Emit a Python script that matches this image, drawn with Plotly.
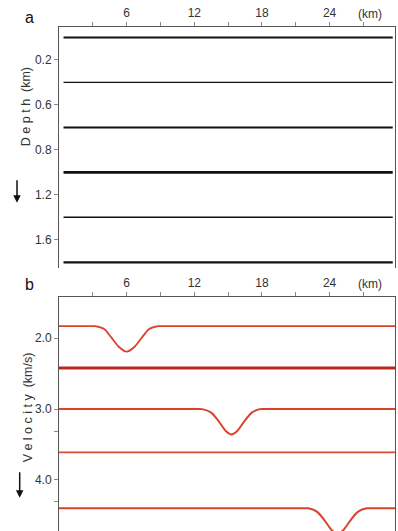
import plotly.graph_objects as go

# ---------------- data ----------------
dist_tickvals = [3, 6, 9, 12, 15, 18, 21, 24, 27]
dist_ticktext = ["", "6", "", "12", "", "18", "", "24", ""]

# panel a: layer interfaces (depth axis units)
layer_depths = [0.0, 0.4, 0.8, 1.2, 1.6, 2.0]
layer_x = [0.4, 29.6]
depth_tickvals = [0.2, 0.6, 1.0, 1.4, 1.8]
depth_ticktext = ["0.2", "0.6", "0.8", "1.2", "1.6"]

# panel b: velocity profiles (km, km/s)
v1_x = [0, 2.4, 3.2, 4.0, 4.6, 5.3, 6.0, 6.7, 7.4, 8.0, 8.8, 9.6, 29.8]
v1_v = [1.83, 1.83, 1.83, 1.87, 1.98, 2.12, 2.19, 2.12, 1.98, 1.87, 1.83, 1.83, 1.83]
v2_x = [0, 29.8]
v2_v = [2.42, 2.42]
v3_x = [0, 11.9, 12.7, 13.5, 14.2, 14.8, 15.3, 15.8, 16.4, 17.1, 17.8, 18.6, 29.8]
v3_v = [3.0, 3.0, 3.0, 3.05, 3.18, 3.31, 3.36, 3.31, 3.18, 3.05, 3.0, 3.0, 3.0]
v4_x = [0, 29.8]
v4_v = [3.61, 3.61]
v5_x = [0, 21.3, 22.1, 22.9, 23.6, 24.2, 24.7, 25.2, 25.8, 26.5, 27.3, 28.1, 29.8]
v5_v = [4.40, 4.40, 4.40, 4.45, 4.58, 4.71, 4.76, 4.71, 4.58, 4.45, 4.40, 4.40, 4.40]
vel_tickvals = [2.0, 3.0, 4.0]
vel_ticktext = ["2.0", "3.0", "4.0"]
vel_minor = [3.32, 4.31]

# ---------------- styles ----------------
layer_widths = [2.0, 1.2, 2.0, 2.8, 1.5, 2.2]
vel_styles = [
    (v1_x, v1_v, "#d9432c", 1.8),
    (v2_x, v2_v, "#b8281a", 3.0),
    (v3_x, v3_v, "#d9432c", 2.0),
    (v4_x, v4_v, "#db4a32", 1.8),
    (v5_x, v5_v, "#d9432c", 2.0),
]

fig = go.Figure()

for d, w in zip(layer_depths, layer_widths):
    fig.add_trace(go.Scatter(x=layer_x, y=[d, d], mode="lines",
                             line=dict(color="#111111", width=w),
                             xaxis="x", yaxis="y", showlegend=False, hoverinfo="skip"))

for xs, vs, c, w in vel_styles:
    fig.add_trace(go.Scatter(x=xs, y=vs, mode="lines",
                             line=dict(color=c, width=w, shape="spline", smoothing=0.8),
                             xaxis="x2", yaxis="y2", showlegend=False, hoverinfo="skip"))

font = "Liberation Sans, Arial, sans-serif"
tickfont = dict(family=font, size=12, color="#333333")

xcommon = dict(range=[0, 29.8], side="top", tickmode="array",
               tickvals=dist_tickvals, ticktext=dist_ticktext,
               ticks="outside", ticklen=4, tickcolor="#888888",
               showline=True, linecolor="#555555", linewidth=1,
               showgrid=False, zeroline=False, tickfont=tickfont)

fig.update_layout(
    width=398, height=531,
    margin=dict(l=59, r=3, t=27, b=0),
    paper_bgcolor="white", plot_bgcolor="white",
    xaxis=dict(anchor="y", **xcommon),
    xaxis2=dict(anchor="y2", **xcommon),
    yaxis=dict(domain=[0.522, 1.0], range=[2.05, -0.093], anchor="x",
               tickmode="array", tickvals=depth_tickvals, ticktext=depth_ticktext,
               ticks="outside", ticklen=4, tickcolor="#888888",
               showline=True, mirror=True, linecolor="#555555", linewidth=1,
               showgrid=False, zeroline=False, tickfont=tickfont),
    yaxis2=dict(domain=[0.0, 0.464], range=[4.72, 1.42], anchor="x2",
                tickmode="array", tickvals=vel_tickvals, ticktext=vel_ticktext,
                ticks="outside", ticklen=4, tickcolor="#888888",
                minor=dict(tickvals=vel_minor, ticks="outside", ticklen=4, tickcolor="#888888"),
                showline=True, mirror=True, linecolor="#555555", linewidth=1,
                showgrid=False, zeroline=False, tickfont=tickfont),
)

ann = []
# (km) labels
ann.append(dict(x=27.6, y=-0.093, xref="x", yref="y", text="(km)", showarrow=False,
                yanchor="bottom", yshift=4, font=tickfont))
ann.append(dict(x=27.6, y=1.42, xref="x2", yref="y2", text="(km)", showarrow=False,
                yanchor="bottom", yshift=4, font=tickfont))
# panel letters
ann.append(dict(x=-0.087, y=-0.093, xref="paper", yref="y", text="a", showarrow=False,
                xanchor="center", yanchor="bottom", yshift=-1,
                font=dict(family=font, size=16, color="#111111")))
ann.append(dict(x=-0.087, y=1.42, xref="paper", yref="y2", text="b", showarrow=False,
                xanchor="center", yanchor="bottom", yshift=2,
                font=dict(family=font, size=16, color="#111111")))
# axis titles
ann.append(dict(x=-0.125, y=0.62, xref="paper", yref="y", text="D e p t h  (km)",
                textangle=-90, showarrow=False, font=dict(family=font, size=12.5, color="#333333")))
ann.append(dict(x=-0.12, y=2.98, xref="paper", yref="y2", text="V e l o c i t y  (km/s)",
                textangle=-90, showarrow=False, font=dict(family=font, size=12.5, color="#333333")))
# down arrows
ann.append(dict(x=-0.125, y=1.47, xref="paper", yref="y", text="", showarrow=True,
                arrowhead=2, arrowsize=1, arrowwidth=1.5, arrowcolor="#111111", ax=0, ay=-24))
ann.append(dict(x=-0.117, y=4.25, xref="paper", yref="y2", text="", showarrow=True,
                arrowhead=2, arrowsize=1, arrowwidth=1.5, arrowcolor="#111111", ax=0, ay=-27))
fig.update_layout(annotations=ann)

fig.write_html("out.html")
